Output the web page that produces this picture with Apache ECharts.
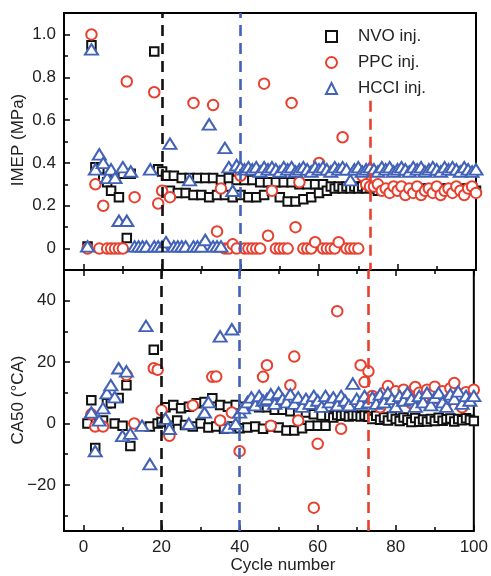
<!DOCTYPE html>
<html><head><meta charset="utf-8">
<script src="https://cdn.jsdelivr.net/npm/echarts@6/dist/echarts.min.js"></script>
<style>html,body{margin:0;padding:0;background:#fff}#c{width:491px;height:576px}</style>
</head><body><div id="c"></div>
<script>
// cycle numbers 1..100 (index + 1)
const nvoImep = [0.01,0.95,0.38,0.37,0.33,0.31,0.27,0.33,0.24,0.35,
 0.05,0.35,null,null,null,null,null,0.92,0.37,0.36,
 0.34,0.27,0.34,0.26,0.33,0.26,0.33,0.25,0.33,0.25,
 0.33,0.24,0.33,0.25,0.32,0.25,0.33,0.24,0.32,0.25,
 0.32,0.24,0.32,0.24,0.31,0.25,0.31,0.27,0.31,0.24,
 0.31,0.22,0.31,0.22,0.30,0.23,0.30,0.24,0.30,0.26,
 0.30,0.27,0.29,0.28,0.29,0.28,0.29,0.28,0.29,0.28,
 0.29,0.28,0.29,0.28,0.27,0.28,0.28,0.27,0.28,0.28,
 0.27,0.28,0.28,0.27,0.28,0.27,0.28,0.28,0.27,0.28,
 0.28,0.27,0.28,0.28,0.27,0.28,0.27,0.28,0.28,0.27];
const ppcImep = [0.00,1.00,0.30,0.00,0.20,0.00,0.00,0.00,0.00,0.00,
 0.78,null,0.24,null,null,null,null,0.73,0.21,0.27,
 null,0.24,null,null,null,null,null,0.68,null,null,
 null,null,0.67,0.08,0.28,0.00,0.00,0.02,0.00,0.34,
 0.00,0.00,0.00,0.00,0.00,0.77,0.06,0.27,0.00,0.00,
 0.00,0.00,0.68,0.10,0.31,0.00,0.00,0.00,0.03,0.40,
 0.00,0.00,0.00,0.00,0.03,0.52,0.00,0.00,0.00,0.00,
 0.34,0.30,0.29,0.29,0.30,0.27,0.28,0.26,0.29,0.27,
 0.29,0.25,0.28,0.26,0.29,0.25,0.27,0.28,0.26,0.29,
 0.25,0.27,0.28,0.26,0.29,0.27,0.25,0.28,0.29,0.26];
const hcciImep = [0.01,0.93,0.37,0.44,0.40,0.33,0.37,0.33,0.13,0.38,
 0.13,0.36,0.01,0.01,0.01,0.01,0.37,0.01,0.01,0.01,
 0.03,0.49,0.01,0.01,0.01,0.01,0.32,0.01,0.01,0.01,
 0.04,0.58,0.01,0.01,0.01,0.47,0.38,0.27,0.39,0.38,
 0.37,0.38,0.37,0.38,0.36,0.38,0.37,0.38,0.37,0.36,
 0.38,0.37,0.38,0.36,0.37,0.38,0.37,0.36,0.38,0.37,
 0.38,0.37,0.36,0.38,0.37,0.38,0.37,0.32,0.37,0.38,
 0.36,0.37,0.38,0.37,0.36,0.38,0.37,0.38,0.36,0.37,
 0.38,0.37,0.36,0.38,0.37,0.38,0.36,0.37,0.38,0.37,
 0.36,0.38,0.37,0.38,0.37,0.36,0.38,0.37,0.36,0.37];
const nvoCa50 = [0,7.6,-8,0.5,1,6.6,6.6,0,8.3,-0.7,
 12.5,-7.3,null,null,null,null,-1,24,0,0.5,
 5.3,-0.7,6,1,5,-0.5,5.5,-1,6.6,0,
 7,-1.3,8.2,-1,6,-1.7,5.5,-1,6,-1.5,
 5.5,-1.3,6,-1,5.3,-1.7,5.3,-1,4.5,-1.3,
 4.5,-2.3,4,-2.3,3.8,-1.5,3.6,-0.7,3,-0.7,
 2.6,-0.7,2.5,2,2.8,2.5,2.8,2.3,2.6,2.5,
 2.3,2.6,2.2,1.5,2.5,1.2,2,1,2.3,1.5,
 0.8,2,1.2,0.5,1.8,0.6,1.3,0.7,1.5,0.8,
 1.9,0.9,1.4,1.6,0.7,1.5,1.1,1.7,1.2,0.8];
const ppcCa50 = [null,3,-1,null,-1,null,null,null,null,null,
 15.8,null,0,null,null,null,null,18,17.5,4.3,
 null,-4,null,null,null,null,null,5.9,null,null,
 null,null,15.2,15.3,1,null,null,3.6,null,-9,
 null,null,null,null,null,15.2,19,-0.7,null,null,
 null,null,12.5,21.8,1,null,null,null,-27.4,-6.6,
 null,null,null,null,36.6,-1.7,null,null,null,null,
 19,13.5,17,9,8,5.3,10,12.2,8.5,10.5,
 7.5,11,9,6.6,11.9,10,7.8,11,9.5,12,
 8,10.5,7,11.5,13.2,9,5.3,10.2,8.5,11];
const hcciCa50 = [null,3.6,-9,1,5,9.9,12.5,8.6,18,-4,
 17,-3.3,null,null,-0.7,31.8,-13.2,null,null,null,
 1.6,-1.7,null,null,null,null,0,null,null,null,
 3.6,7,null,null,28.4,null,-1.3,30.7,0,3.6,
 5,7,8.5,6,9,7.5,8,9.5,6.5,10,
 8,7,9.5,6.5,8.5,5.5,8,6.5,9,7.5,
 5.5,9,7,8.5,6,9,7.5,6,13,8,
 6.5,9,7,8.5,6.5,9.5,7,10,8,5.5,
 9,7.5,10,8,5.5,9,7,10,6,8.5,
 10,7,5.5,9.5,8,10.5,6.5,9,7.5,9];

const seriesNames = ['NVO inj.','PPC inj.','HCCI inj.'];
const xTickValues = [0,10,20,30,40,50,60,70,80,90,100];
const xLabelValues = [0,20,40,60,80,100];
const imepTicks = [0,0.1,0.2,0.3,0.4,0.5,0.6,0.7,0.8,0.9,1.0];
const imepLabels = [0,0.2,0.4,0.6,0.8,1.0];
const caTicks = [-30,-20,-10,0,10,20,30,40];
const caLabels = [-20,0,20,40];
const transitionCycles = [20,40,73]; // NVO, HCCI, PPC

const X_MIN = -5, X_MAX = 100, IMEP_MIN = -0.1, IMEP_MAX = 1.1, CA_MIN = -35, CA_MAX = 50;
const FONT = '"Liberation Sans", Arial, Helvetica, sans-serif';
const BLACK = '#111111', RED = '#e8402f', BLUE = '#4262b8';
const TXT = '#222222';
const GRID_W = 412, TOP_H = 257, BOT_H = 261;

function pts(arr){ const o=[]; arr.forEach((v,i)=>{ if(v!==null) o.push([i+1,v]); }); return o; }

const chart = echarts.init(document.getElementById('c'), null, {renderer:'canvas'});

function xAx(grid, opts){
  return Object.assign({type:'value', gridIndex:grid, min:X_MIN, max:X_MAX,
    axisLine:{show:false, onZero:false}, splitLine:{show:false},
    axisTick:{show:false}, axisLabel:{show:false}}, opts||{});
}
const dash = (c)=>({color:c, width:2.6, type:[11,7]});
function vline(x, c){ return {xAxis:x, lineStyle:dash(c)}; }

// axis tick marks (inward), placed through the axes' own scales
const tickLine = {color:'#000', width:1.5, type:'solid'};
function xTicks(yEdge, dir, yRange, plotH, majors){
  return xTickValues.map(v=>{
    const len = (majors.indexOf(v)>=0 ? 6 : 4) * yRange / plotH * dir;
    return [{coord:[v, yEdge], lineStyle:tickLine}, {coord:[v, yEdge + len]}];
  });
}
function yTicks(values, majors){
  return values.map(v=>{
    const len = (majors.indexOf(v)>=0 ? 6 : 4) * (X_MAX - X_MIN) / GRID_W;
    return [{coord:[X_MIN, v], lineStyle:tickLine}, {coord:[X_MIN + len, v]}];
  });
}
function tickSeries(xi, yi, lines){
  return {type:'scatter', name:'ticks', xAxisIndex:xi, yAxisIndex:yi, data:[], silent:true,
    markLine:{silent:true, symbol:'none', label:{show:false}, animation:false, data:lines}};
}

function mkSeries(name, sym, size, color, data, xi, yi, extra){
  return Object.assign({
    name:name, type:'scatter', xAxisIndex:xi, yAxisIndex:yi,
    symbol:sym, symbolSize:size, data:pts(data), silent:true, animation:false,
    itemStyle:{color:'#ffffff', borderColor:color, borderWidth:2, opacity:1}
  }, extra||{});
}

const option = {
  animation:false,
  backgroundColor:'#ffffff',
  grid:[
    {left:64, top:13, width:GRID_W, height:TOP_H, show:true, borderColor:'#000', borderWidth:2, backgroundColor:'transparent'},
    {left:64, top:270, width:GRID_W, height:BOT_H, show:true, borderColor:'#000', borderWidth:2, backgroundColor:'transparent'}
  ],
  xAxis:[
    xAx(0,{position:'bottom'}),
    xAx(1,{position:'bottom', axisLabel:{show:true, customValues:xLabelValues, fontSize:17, color:TXT, fontFamily:FONT, margin:8}})
  ],
  yAxis:[
    {type:'value', gridIndex:0, min:IMEP_MIN, max:IMEP_MAX, position:'left', axisLine:{show:false, onZero:false}, splitLine:{show:false},
     axisTick:{show:false},
     axisLabel:{customValues:imepLabels, fontSize:17, color:TXT, fontFamily:FONT, margin:8,
       formatter:v=> v===0 ? '0' : v.toFixed(1)}},
    {type:'value', gridIndex:1, min:CA_MIN, max:CA_MAX, position:'left', axisLine:{show:false, onZero:false}, splitLine:{show:false},
     axisTick:{show:false},
     axisLabel:{customValues:caLabels, fontSize:17, color:TXT, fontFamily:FONT, margin:8,
       formatter:v=> v<0 ? '\u2212'+(-v) : String(v)}}
  ],
  legend:{
    orient:'vertical', left:320, top:22, itemWidth:11, itemHeight:11, itemGap:7,
    textStyle:{fontSize:17, color:TXT, fontFamily:FONT, padding:[0,0,0,16], lineHeight:19},
    data:[{name:seriesNames[0], icon:'rect'},{name:seriesNames[1], icon:'circle'},{name:seriesNames[2], icon:'triangle'}],
    selectedMode:false
  },
  series:[
    tickSeries(0,0, xTicks(IMEP_MIN, 1, IMEP_MAX-IMEP_MIN, TOP_H, xLabelValues).concat(yTicks(imepTicks, imepLabels))),
    tickSeries(1,1, xTicks(CA_MIN, 1, CA_MAX-CA_MIN, BOT_H, xLabelValues)
      .concat(xTicks(CA_MAX, -1, CA_MAX-CA_MIN, BOT_H, xLabelValues))
      .concat(yTicks(caTicks, caLabels))),
    mkSeries(seriesNames[0],'rect',8.5,BLACK,nvoImep,0,0,{
      markLine:{silent:true, symbol:'none', label:{show:false}, animation:false,
        data:[vline(transitionCycles[0],BLACK), vline(transitionCycles[1],BLUE),
          [{coord:[transitionCycles[2],0.69], lineStyle:dash(RED)},{coord:[transitionCycles[2],IMEP_MIN]}]]}}),
    mkSeries(seriesNames[1],'circle',10.5,RED,ppcImep,0,0),
    mkSeries(seriesNames[2],'triangle',[13,10.5],BLUE,hcciImep,0,0),
    mkSeries(seriesNames[0],'rect',8.5,BLACK,nvoCa50,1,1,{
      markLine:{silent:true, symbol:'none', label:{show:false}, animation:false,
        data:[vline(transitionCycles[0],BLACK), vline(transitionCycles[1],BLUE), vline(transitionCycles[2],RED)]}}),
    mkSeries(seriesNames[1],'circle',10.5,RED,ppcCa50,1,1),
    mkSeries(seriesNames[2],'triangle',[13,10.5],BLUE,hcciCa50,1,1)
  ],
  graphic:[
    {type:'text', style:{text:'IMEP (MPa)', fontSize:17, fontFamily:FONT, fill:TXT, textAlign:'center', textVerticalAlign:'middle'}, position:[18,140], rotation:Math.PI/2},
    {type:'text', style:{text:'CA50 (\u00B0CA)', fontSize:17, fontFamily:FONT, fill:TXT, textAlign:'center', textVerticalAlign:'middle'}, position:[18,400], rotation:Math.PI/2},
    {type:'text', style:{text:'Cycle number', fontSize:17, fontFamily:FONT, fill:TXT, textAlign:'center', textVerticalAlign:'middle'}, position:[283,565]}
  ]
};
chart.setOption(option);
</script>
</body></html>
